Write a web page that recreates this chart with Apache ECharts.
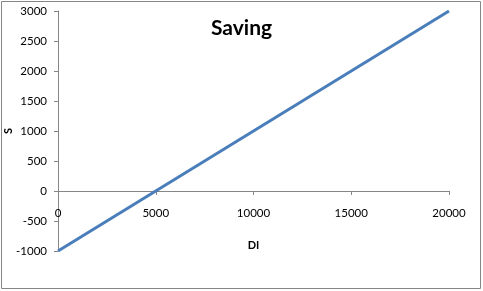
<!DOCTYPE html>
<html>
<head>
<meta charset="utf-8">
<script src="https://cdn.jsdelivr.net/npm/echarts@6/dist/echarts.min.js"></script>
<style>
  html, body { margin: 0; padding: 0; background: #fff; }
  #chart { width: 483px; height: 291px; }
</style>
</head>
<body>
<div id="chart"></div>
<script>
// disposable income vs saving, straight line end points
const diValues = [0, 20000];
const savingValues = [-1000, 3000];
const xTicks = [0, 5000, 10000, 15000, 20000];
const yTicks = [-1000, -500, 0, 500, 1000, 1500, 2000, 2500, 3000];

const FONT = 'Lato, "Open Sans", sans-serif';
const AXIS_GRAY = '#868686';
const plainNum = v => String(v);

const chart = echarts.init(document.getElementById('chart'), null, {renderer: 'canvas'});

chart.setOption({
  animation: false,
  title: {
    text: 'Saving',
    left: 'center',
    top: 13,
    textStyle: {fontFamily: FONT, fontSize: 21, fontWeight: 'bold', color: '#000'}
  },
  graphic: [{
    type: 'rect',
    shape: {x: 1.5, y: 1.5, width: 479, height: 287},
    style: {fill: null, stroke: AXIS_GRAY, lineWidth: 1},
    silent: true
  }],
  grid: {left: 58, right: 34, top: 11, bottom: 40, containLabel: false, outerBoundsMode: 'none'},
  xAxis: {
    type: 'value',
    min: xTicks[0],
    max: xTicks[xTicks.length - 1],
    interval: xTicks[1] - xTicks[0],
    offset: -60, // axis sits on S = 0 (60px above grid bottom)
    name: 'DI',
    nameLocation: 'middle',
    nameGap: 49,
    nameMoveOverlap: false,
    nameTextStyle: {fontFamily: FONT, fontSize: 11, fontWeight: 'bold', color: '#000'},
    axisLine: {onZero: false, lineStyle: {color: AXIS_GRAY, width: 1}},
    axisTick: {show: true, length: 4, lineStyle: {color: AXIS_GRAY}},
    axisLabel: {margin: 16, fontFamily: FONT, fontSize: 11.5, color: '#000', formatter: plainNum},
    splitLine: {show: false}
  },
  yAxis: {
    type: 'value',
    min: yTicks[0],
    max: yTicks[yTicks.length - 1],
    interval: yTicks[1] - yTicks[0],
    name: 'S',
    nameLocation: 'middle',
    nameRotate: 90,
    nameGap: 44,
    nameMoveOverlap: false,
    nameTextStyle: {fontFamily: FONT, fontSize: 11, fontWeight: 'bold', color: '#000'},
    axisLine: {show: true, lineStyle: {color: AXIS_GRAY, width: 1}},
    axisTick: {show: true, length: 4, lineStyle: {color: AXIS_GRAY}},
    axisLabel: {margin: 11, fontFamily: FONT, fontSize: 11.5, color: '#000', formatter: plainNum},
    splitLine: {show: false}
  },
  series: [{
    type: 'line',
    data: diValues.map((d, i) => [d, savingValues[i]]),
    showSymbol: false,
    lineStyle: {color: '#4a7ebb', width: 3}
  }]
});
</script>
</body>
</html>
